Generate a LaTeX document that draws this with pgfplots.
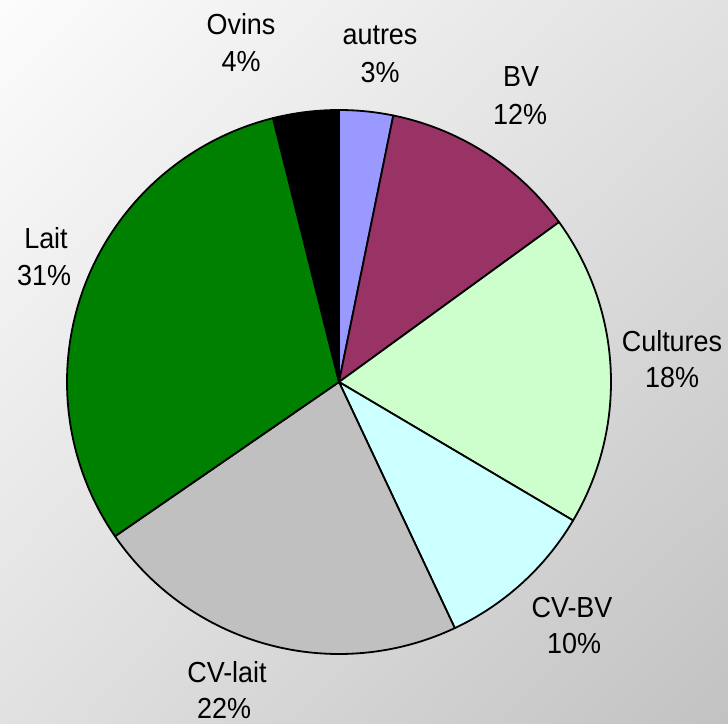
\documentclass[border=0pt]{standalone}
\usepackage{pgfplots}
\pgfplotsset{compat=1.18}
\usetikzlibrary{shadings}
\usepackage{fontspec}
\setmainfont{Liberation Sans}
\definecolor{cautres}{HTML}{9999FF}
\definecolor{cbv}{HTML}{993366}
\definecolor{ccult}{HTML}{CCFFCC}
\definecolor{ccvbv}{HTML}{CCFFFF}
\definecolor{ccvlait}{HTML}{C0C0C0}
\definecolor{clait}{HTML}{008000}
\definecolor{covins}{HTML}{000000}
\definecolor{bgUL}{HTML}{FCFCFC}
\definecolor{bgMID}{HTML}{E1E1E1}
\definecolor{bgLR}{HTML}{C2C2C2}
\newcommand\lab[1]{\scalebox{0.93}[1]{#1}}
% shares (percent), clockwise from 12 o'clock
\def\vA{3.2}  % autres
\def\vB{11.8} % BV
\def\vC{18.5} % Cultures
\def\vD{9.5}  % CV-BV
\def\vE{22.4} % CV-lait
\def\vF{30.7} % Lait
\def\vG{3.9}  % Ovins
\pgfmathsetmacro\aA{90}
\pgfmathsetmacro\aB{\aA-3.6*\vA}
\pgfmathsetmacro\aC{\aB-3.6*\vB}
\pgfmathsetmacro\aD{\aC-3.6*\vC}
\pgfmathsetmacro\aE{\aD-3.6*\vD}
\pgfmathsetmacro\aF{\aE-3.6*\vE}
\pgfmathsetmacro\aG{\aF-3.6*\vF}
\pgfmathsetmacro\aH{\aG-3.6*\vG}
\begin{document}
\begin{tikzpicture}
\shade[upper left=bgUL, upper right=bgMID, lower left=bgMID, lower right=bgLR]
  (0pt,0pt) rectangle (728pt,723pt);
\begin{axis}[
  at={(67pt,69pt)}, anchor=south west,
  scale only axis, width=544pt, height=544pt,
  xmin=-1, xmax=1, ymin=-1, ymax=1,
  hide axis, clip=false,
  every axis plot/.append style={draw=black, line width=1.8pt, line join=round, samples=60, smooth},
]
\addplot[fill=cautres, domain=\aB:\aA] ({cos(x)},{sin(x)}) -- (axis cs:0,0) -- cycle;
\addplot[fill=cbv, domain=\aC:\aB] ({cos(x)},{sin(x)}) -- (axis cs:0,0) -- cycle;
\addplot[fill=ccult, domain=\aD:\aC] ({cos(x)},{sin(x)}) -- (axis cs:0,0) -- cycle;
\addplot[fill=ccvbv, domain=\aE:\aD] ({cos(x)},{sin(x)}) -- (axis cs:0,0) -- cycle;
\addplot[fill=ccvlait, domain=\aF:\aE] ({cos(x)},{sin(x)}) -- (axis cs:0,0) -- cycle;
\addplot[fill=clait, domain=\aG:\aF] ({cos(x)},{sin(x)}) -- (axis cs:0,0) -- cycle;
\addplot[fill=covins, domain=\aH:\aG] ({cos(x)},{sin(x)}) -- (axis cs:0,0) -- cycle;
\end{axis}
\begin{scope}[every node/.style={anchor=base, inner sep=0pt, font=\fontsize{29}{34}\selectfont}]
\node at (241pt,688pt) {\lab{Ovins}};
\node at (241pt,651pt) {\lab{4\%}};
\node at (380pt,678pt) {\lab{autres}};
\node at (380pt,640pt) {\lab{3\%}};
\node at (521pt,636pt) {\lab{BV}};
\node at (520pt,598pt) {\lab{12\%}};
\node at (672pt,371pt) {\lab{Cultures}};
\node at (672pt,335pt) {\lab{18\%}};
\node at (46pt,474pt) {\lab{Lait}};
\node at (44pt,437pt) {\lab{31\%}};
\node at (572pt,106pt) {\lab{CV-BV}};
\node at (574pt,70pt) {\lab{10\%}};
\node at (227pt,41pt) {\lab{CV-lait}};
\node at (224pt,5pt) {\lab{22\%}};
\end{scope}
\useasboundingbox (0pt,0pt) rectangle (728pt,723pt);
\end{tikzpicture}
\end{document}
